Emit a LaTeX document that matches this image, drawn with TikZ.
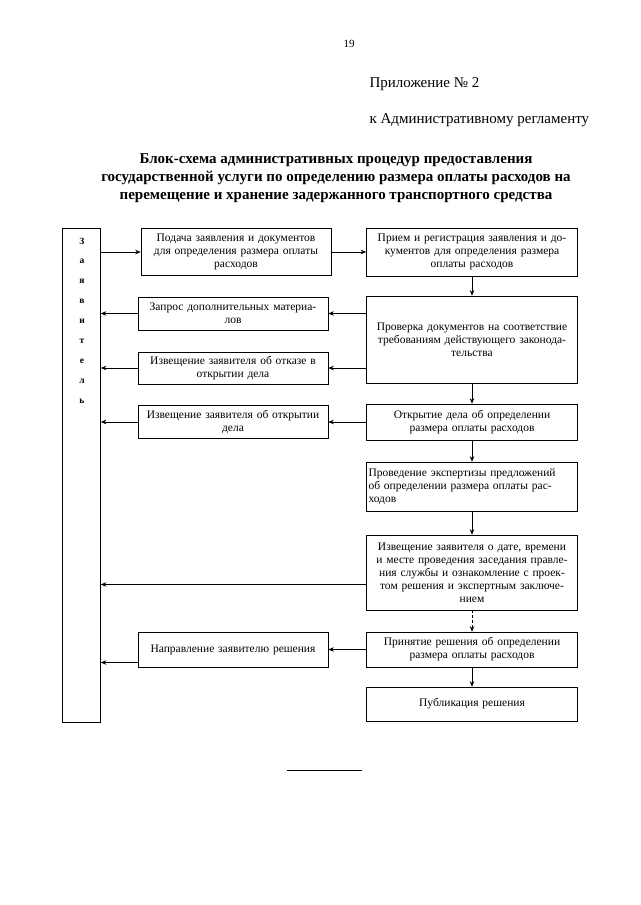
\documentclass[tikz,border=0pt]{standalone}
\usepackage{fontspec}
\setmainfont{Liberation Serif}
\usetikzlibrary{
  arrows.meta,
  positioning,
  calc
}

\tikzset{
  blk/.style={draw, line width=0.6pt, align=center, inner xsep=2pt, inner ysep=1pt,
    font=\fontsize{11.5}{13}\selectfont},
  lbox/.style={blk, text width=186pt},
  rbox/.style={blk, text width=207pt},
  arr/.style={-{Stealth[length=5.5pt,width=4.5pt]}, line width=0.6pt}
}

\begin{document}
\begin{tikzpicture}[x=1pt,y=-1pt]
  \useasboundingbox (0,0) rectangle (640,905);
  % header
  \node[font=\fontsize{11}{13}\selectfont] (pg) at (349,44) {19};
  \node[anchor=west, font=\fontsize{15}{17}\selectfont] (pril) at (366,84) {Приложение № 2};
  \node[anchor=west, font=\fontsize{15}{17}\selectfont] (reg) at (366,120) {к Административному регламенту};
  \node[align=center, font=\bfseries\fontsize{15}{18}\selectfont] (title) at (336,178)
    {Блок-схема административных процедур предоставления\\
     государственной услуги по определению размера оплаты расходов на\\
     перемещение и хранение задержанного транспортного средства};
  % applicant column
  \node[draw, line width=0.6pt, minimum width=38pt, minimum height=494pt] (zay) at (81.5,475.5) {};
  \foreach \ch [count=\k from 0] in {З,а,я,в,и,т,е,л,ь}{
    \node[font=\bfseries\fontsize{9.5}{10}\selectfont] (zl\k) at (82,241+20*\k) {\ch};
  }
  % left boxes
  \node[lbox, minimum height=47pt] (b1) at (236,252)
    {Подача заявления и документов\\для определения размера оплаты\\расходов};
  \node[lbox, minimum height=33pt] (b3) at (233,313.5)
    {Запрос дополнительных материа-\\лов};
  \node[lbox, minimum height=32pt] (b5) at (233,368)
    {Извещение заявителя об отказе в\\открытии дела};
  \node[lbox, minimum height=33pt] (b6) at (233,422)
    {Извещение заявителя об открытии\\дела};
  \node[lbox, minimum height=35pt] (b11) at (233,649.5)
    {Направление заявителю решения};
  % right boxes
  \node[rbox, minimum height=48pt] (b2) at (472,252)
    {Прием и регистрация заявления и до-\\кументов для определения размера\\оплаты расходов};
  \node[rbox, minimum height=87pt] (b4) at (472,339.5)
    {Проверка документов на соответствие\\требованиям действующего законода-\\тельства};
  \node[rbox, minimum height=36pt] (b7) at (472,422)
    {Открытие дела об определении\\размера оплаты расходов};
  \node[rbox, minimum height=49pt, align=left] (b8) at (472,486.5)
    {Проведение экспертизы предложений\\об определении размера оплаты рас-\\ходов};
  \node[rbox, minimum height=75pt] (b9) at (472,572.5)
    {Извещение заявителя о дате, времени\\и месте проведения заседания правле-\\ния службы и ознакомление с проек-\\том решения и экспертным заключе-\\нием};
  \node[rbox, minimum height=35pt] (b10) at (472,649.5)
    {Принятие решения об определении\\размера оплаты расходов};
  \node[rbox, minimum height=34pt] (b12) at (472,704)
    {Публикация решения};
  % main chain
  \draw[arr] (zay.east |- b1.west) -- (b1.west);
  \draw[arr] (b1.east) -- (b2.west);
  \draw[arr] (b2.south) -- (b4.north);
  \draw[arr] (b4.south) -- (b7.north);
  \draw[arr] (b7.south) -- (b8.north);
  \draw[arr] (b8.south) -- (b9.north);
  \draw[arr, densely dashed] (b9.south) -- (b10.north);
  \draw[arr] (b10.south) -- (b12.north);
  % replies to the applicant
  \draw[arr] (b4.west |- b3.east) -- (b3.east);
  \draw[arr] (b3.west) -- (zay.east |- b3.west);
  \draw[arr] (b4.west |- b5.east) -- (b5.east);
  \draw[arr] (b5.west) -- (zay.east |- b5.west);
  \draw[arr] (b7.west) -- (b6.east);
  \draw[arr] (b6.west) -- (zay.east |- b6.west);
  \coordinate (c9) at ([yshift=-12pt]b9.west);
  \draw[arr] (c9) -- (zay.east |- c9);
  \draw[arr] (b10.west) -- (b11.east);
  \coordinate (c11) at ([yshift=-13pt]b11.west);
  \draw[arr] (c11) -- (zay.east |- c11);
  % closing rule
  \coordinate (r1) at (287,770);
  \coordinate (r2) at (362,770);
  \draw[line width=0.6pt] (r1) -- (r2);
\end{tikzpicture}
\end{document}
